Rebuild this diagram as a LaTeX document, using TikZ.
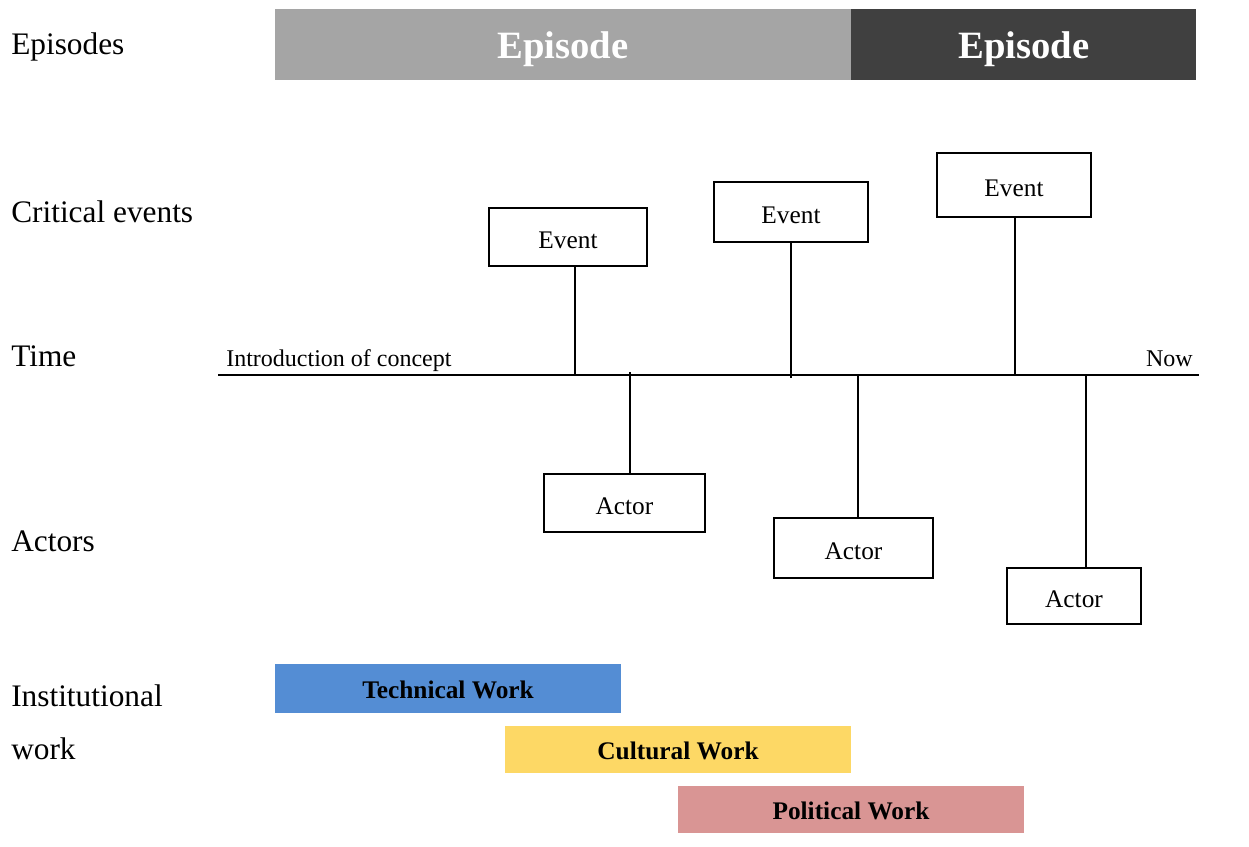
\documentclass[tikz,border=0pt]{standalone}
\usepackage{fontspec}
\setmainfont{Liberation Serif}
\usetikzlibrary{fit}
\definecolor{epA}{HTML}{A5A5A5}
\definecolor{epB}{HTML}{404040}
\definecolor{techC}{HTML}{548DD4}
\definecolor{cultC}{HTML}{FDD865}
\definecolor{polC}{HTML}{D99594}
\tikzset{
  px/.style={x=0.75pt,y=-0.75pt},
  rowlabel/.style={anchor=west,inner sep=0pt,font=\fontsize{23.5}{27}\selectfont},
  box/.style={draw=black,line width=1.5pt,fill=white,inner sep=0pt},
  boxtext/.style={inner sep=0pt,font=\fontsize{19}{22}\selectfont,yshift=-2.5pt},
  bar/.style={draw=none,inner sep=0pt},
  bartext/.style={inner sep=0pt,font=\bfseries\fontsize{19}{22}\selectfont,yshift=-1pt},
  eptext/.style={inner sep=0pt,text=white,font=\bfseries\fontsize{29}{34}\selectfont,yshift=-3pt},
  stem/.style={line width=1.6pt},
  small/.style={inner sep=0pt,font=\fontsize{18}{21}\selectfont}
}
\begin{document}
\begin{tikzpicture}[px]
\useasboundingbox (0,0) rectangle (1249,846);
% row labels
\node[rowlabel] (lEp) at (11,47) {Episodes};
\node[rowlabel] (lCe) at (11,212) {Critical events};
\node[rowlabel] (lTi) at (11,356) {Time};
\node[rowlabel] (lAc) at (11,541) {Actors};
\node[rowlabel] (lIn) at (11,696) {Institutional};
\node[rowlabel] (lWo) at (11,749) {work};
% episodes
\node[bar,fill=epA,fit={(275,9)(851,80)}] (ep1) {};
\node[bar,fill=epB,fit={(851,9)(1196,80)}] (ep2) {};
\node[eptext] (ep1t) at (563,45) {Episode};
\node[eptext] (ep2t) at (1024,45) {Episode};
% timeline
\coordinate (t0) at (218,375);
\coordinate (t1) at (1199,375);
\draw[stem] (t0) -- (t1);
\node[small,anchor=base west] (intro) at (226,366) {Introduction of concept};
\node[small,anchor=base east] (now) at (1193,366) {Now};
% events
\node[box,fit={(489,208)(647,266)}] (ev1) {};
\node[boxtext] at (ev1.center) {Event};
\node[box,fit={(714,182)(868,242)}] (ev2) {};
\node[boxtext] at (ev2.center) {Event};
\node[box,fit={(937,153)(1091,217)}] (ev3) {};
\node[boxtext] at (ev3.center) {Event};
\coordinate (e1t) at (575,375);
\coordinate (e2t) at (791,378);
\coordinate (e3t) at (1015,376);
\draw[stem] (ev1.south -| e1t) -- (e1t);
\draw[stem] (ev2.south -| e2t) -- (e2t);
\draw[stem] (ev3.south -| e3t) -- (e3t);
% actors
\node[box,fit={(544,474)(705,532)}] (ac1) {};
\node[boxtext] at (ac1.center) {Actor};
\node[box,fit={(774,518)(933,578)}] (ac2) {};
\node[boxtext] at (ac2.center) {Actor};
\node[box,fit={(1007,568)(1141,624)}] (ac3) {};
\node[boxtext] at (ac3.center) {Actor};
\coordinate (a1t) at (630,372);
\coordinate (a2t) at (858,375);
\coordinate (a3t) at (1086,375);
\draw[stem] (a1t) -- (ac1.north -| a1t);
\draw[stem] (a2t) -- (ac2.north -| a2t);
\draw[stem] (a3t) -- (ac3.north -| a3t);
% institutional work
\node[bar,fill=techC,fit={(275,664)(621,713)}] (tech) {};
\node[bartext] at (tech.center) {Technical Work};
\node[bar,fill=cultC,fit={(505,726)(851,773)}] (cult) {};
\node[bartext] at (cult.center) {Cultural Work};
\node[bar,fill=polC,fit={(678,786)(1024,833)}] (pol) {};
\node[bartext] at (pol.center) {Political Work};
\end{tikzpicture}
\end{document}
